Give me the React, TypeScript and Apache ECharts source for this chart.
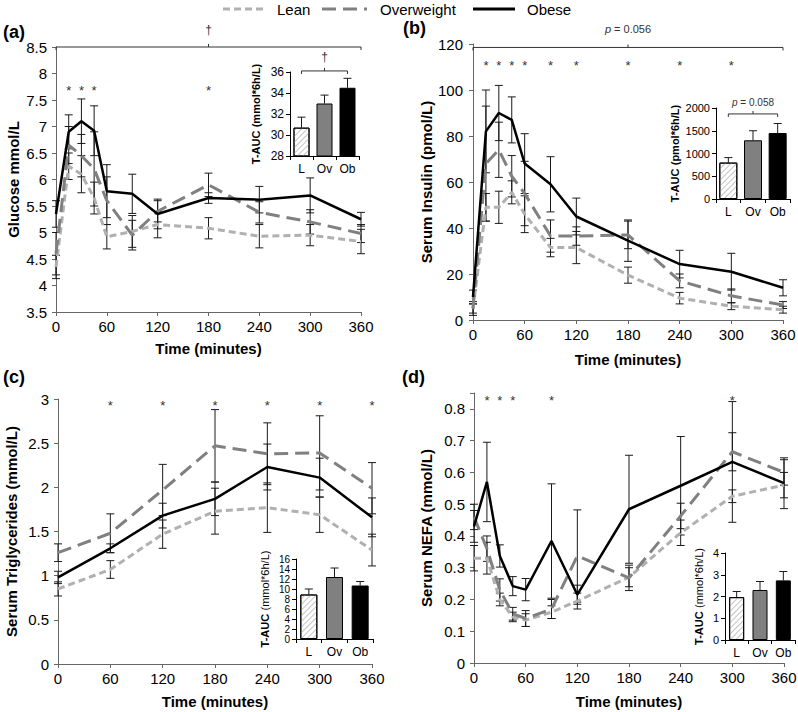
import React, { useEffect, useRef } from 'react';
import * as echarts from 'echarts';

const FONT = '"Liberation Sans", Arial, Helvetica, sans-serif';

// ---------- data ----------
const timesFull = [0, 15, 30, 45, 60, 90, 120, 180, 240, 300, 360];
const timesTG = [0, 60, 120, 180, 240, 300, 360];
const groupNames = ['Lean', 'Overweight', 'Obese'];
const aucCats = ['L', 'Ov', 'Ob'];

// (a) glucose (mmol/L)
const glucoseLean = [4.35, 6.25, 6.1, 5.65, 4.92, 5.02, 5.15, 5.08, 4.93, 4.95, 4.83];
const glucoseLeanErr = [0.22, 0.25, 0.35, 0.3, 0.23, 0.3, 0.25, 0.2, 0.22, 0.2, 0.23];
const glucoseOver = [4.6, 6.65, 6.45, 6.2, 5.6, 4.95, 5.4, 5.9, 5.38, 5.2, 4.98];
const glucoseOverErr = [0.4, 0.35, 0.4, 0.7, 0.45, 0.28, 0.2, 0.22, 0.2, 0.23, 0.17];
const glucoseObese = [5.35, 6.9, 7.1, 6.92, 5.78, 5.73, 5.35, 5.65, 5.62, 5.7, 5.25];
const glucoseObeseErr = [0.25, 0.32, 0.42, 0.47, 0.5, 0.37, 0.28, 0.1, 0.25, 0.33, 0.13];
const glucoseSig = [15, 30, 45, 180];
const glucoseSigLevel = 7.73;

// (b) insulin (pmol/L)
const insulinLean = [5, 49, 49, 55.5, 46, 31.5, 31.5, 19.5, 9.5, 6, 4.5];
const insulinLeanErr = [2, 6, 7, 5, 8, 4, 7, 3.5, 2.5, 1.5, 1.5];
const insulinOver = [5, 68, 74, 62.5, 55, 36.5, 36.5, 37, 17, 10.5, 6.5];
const insulinOverErr = [3, 25, 12, 9, 14, 7, 4, 6, 3, 3, 1.5];
const insulinObese = [10, 82, 90, 87, 68, 59, 45, 34.5, 24.3, 21, 14];
const insulinObeseErr = [3, 18, 12, 10, 13, 12, 8, 9, 6, 8, 3.5];
const insulinSig = [15, 30, 45, 60, 90, 120, 180, 240, 300];
const insulinSigLevel = 112;

// (c) triglycerides (mmol/L)
const tgLean = [0.85, 1.07, 1.47, 1.73, 1.77, 1.69, 1.29];
const tgLeanErr = [0.08, 0.1, 0.16, 0.26, 0.28, 0.2, 0.18];
const tgOver = [1.26, 1.48, 1.97, 2.47, 2.38, 2.39, 1.99];
const tgOverErr = [0.1, 0.22, 0.29, 0.41, 0.35, 0.42, 0.29];
const tgObese = [0.98, 1.31, 1.68, 1.87, 2.23, 2.11, 1.66];
const tgObeseErr = [0.07, 0.05, 0.14, 0.19, 0.26, 0.22, 0.22];
const tgSig = [60, 120, 180, 240, 300, 360];
const tgSigLevel = 2.96;

// (d) NEFA (mmol/L)
const nefaLean = [0.33, 0.33, 0.2, 0.145, 0.135, 0.16, 0.195, 0.27, 0.41, 0.525, 0.56];
const nefaLeanErr = [0.04, 0.05, 0.02, 0.015, 0.02, 0.02, 0.025, 0.03, 0.04, 0.02, 0.04];
const nefaOver = [0.46, 0.36, 0.23, 0.155, 0.14, 0.17, 0.337, 0.268, 0.463, 0.665, 0.6];
const nefaOverErr = [0.04, 0.04, 0.035, 0.02, 0.025, 0.03, 0.145, 0.04, 0.04, 0.06, 0.04];
const nefaObese = [0.43, 0.57, 0.337, 0.242, 0.231, 0.384, 0.215, 0.484, 0.558, 0.633, 0.566];
const nefaObeseErr = [0.05, 0.125, 0.035, 0.03, 0.035, 0.18, 0.03, 0.17, 0.155, 0.19, 0.08];
const nefaSig = [15, 30, 45, 90, 300];
const nefaSigLevel = 0.837;

// T-AUC insets
const aucGlucose = [30.7, 33.0, 34.5];
const aucGlucoseErr = [1.0, 0.8, 0.9];
const aucInsulin = [800, 1290, 1450];
const aucInsulinErr = [110, 210, 210];
const aucTG = [8.9, 12.4, 10.7];
const aucTGErr = [1.1, 1.8, 0.8];
const aucNEFA = [1.97, 2.3, 2.74];
const aucNEFAErr = [0.26, 0.39, 0.41];

// ---------- styles ----------
const LEAN_C = '#b0b0b0';
const OVER_C = '#808080';
const OBESE_C = '#000000';
const AXIS_C = '#666666';
const ERR_C = '#1a1a1a';
const NOTE_C = '#333333';
const LEAN_DASH = [7, 4];
const OVER_DASH = [14, 7];

const errRender = (capHalf: number, bottomCap: boolean) => (params: any, api: any) => {
  const x = api.value(0);
  const p1 = api.coord([x, api.value(1)]);
  const p2 = api.coord([x, api.value(2)]);
  const st = { stroke: ERR_C, lineWidth: 1 };
  const children: any[] = [
    { type: 'line', shape: { x1: p1[0], y1: p1[1], x2: p2[0], y2: p2[1] }, style: st },
    { type: 'line', shape: { x1: p2[0] - capHalf, y1: p2[1], x2: p2[0] + capHalf, y2: p2[1] }, style: st },
  ];
  if (bottomCap) {
    children.push({ type: 'line', shape: { x1: p1[0] - capHalf, y1: p1[1], x2: p1[0] + capHalf, y2: p1[1] }, style: st });
  }
  return { type: 'group', children };
};

const starRender = (params: any, api: any) => {
  const p = api.coord([api.value(0), api.value(1)]);
  return {
    type: 'text',
    x: p[0],
    y: p[1] + 3,
    style: {
      text: '*', fill: NOTE_C, fontSize: 13, fontFamily: FONT,
      align: 'center', textAlign: 'center', verticalAlign: 'middle', textVerticalAlign: 'middle',
    },
  };
};

const bracketRender = (label: string, labelGap: number, fontSize: number) => (params: any, api: any) => {
  const a = api.coord([api.value(0), api.value(2)]);
  const b = api.coord([api.value(1), api.value(2)]);
  const y = a[1];
  const mid = (a[0] + b[0]) / 2;
  const st = { stroke: NOTE_C, lineWidth: 1 };
  return {
    type: 'group',
    children: [
      { type: 'line', shape: { x1: a[0], y1: y, x2: b[0], y2: y }, style: st },
      { type: 'line', shape: { x1: a[0], y1: y, x2: a[0], y2: y + 3 }, style: st },
      { type: 'line', shape: { x1: b[0], y1: y, x2: b[0], y2: y + 3 }, style: st },
      { type: 'line', shape: { x1: mid, y1: y, x2: mid, y2: y - 3 }, style: st },
      {
        type: 'text', x: mid, y: y - labelGap,
        style: {
          text: label, fill: NOTE_C, fontSize, fontFamily: FONT,
          align: 'center', textAlign: 'center', verticalAlign: 'middle', textVerticalAlign: 'middle',
          rich: { i: { fontStyle: 'italic', fontSize, fontFamily: FONT, fill: NOTE_C, color: NOTE_C } },
        },
      },
    ],
  };
};

type Panel = {
  grid: { left: number; top: number; width: number; height: number };
  times: number[];
  lean: number[]; leanE: number[];
  over: number[]; overE: number[];
  obese: number[]; obeseE: number[];
  yMin: number; yMax: number; yInt: number;
  yName: string; yNameGap: number; xNameGap: number; yLabelMargin: number;
  sig: number[]; sigLevel: number;
  hideAbove?: number;
};

const panels: Panel[] = [
  {
    grid: { left: 56, top: 47, width: 305, height: 265 },
    times: timesFull, lean: glucoseLean, leanE: glucoseLeanErr, over: glucoseOver, overE: glucoseOverErr,
    obese: glucoseObese, obeseE: glucoseObeseErr, yMin: 3.5, yMax: 8.5, yInt: 0.5,
    yName: 'Glucose mmol/L', yNameGap: 35, xNameGap: 29, yLabelMargin: 9, sig: glucoseSig, sigLevel: glucoseSigLevel,
  },
  {
    grid: { left: 473, top: 44, width: 310, height: 276 },
    times: timesFull, lean: insulinLean, leanE: insulinLeanErr, over: insulinOver, overE: insulinOverErr,
    obese: insulinObese, obeseE: insulinObeseErr, yMin: 0, yMax: 120, yInt: 20,
    yName: 'Serum Insulin (pmol/L)', yNameGap: 39, xNameGap: 32, yLabelMargin: 10, sig: insulinSig, sigLevel: insulinSigLevel,
  },
  {
    grid: { left: 58, top: 399, width: 314, height: 265 },
    times: timesTG, lean: tgLean, leanE: tgLeanErr, over: tgOver, overE: tgOverErr,
    obese: tgObese, obeseE: tgObeseErr, yMin: 0, yMax: 3, yInt: 0.5,
    yName: 'Serum Triglycerides (mmol/L)', yNameGap: 39, xNameGap: 30, yLabelMargin: 9, sig: tgSig, sigLevel: tgSigLevel,
  },
  {
    grid: { left: 474, top: 393, width: 310, height: 270 },
    times: timesFull, lean: nefaLean, leanE: nefaLeanErr, over: nefaOver, overE: nefaOverErr,
    obese: nefaObese, obeseE: nefaObeseErr, yMin: 0, yMax: 0.85, yInt: 0.1,
    yName: 'Serum NEFA (mmol/L)', yNameGap: 40, xNameGap: 31, yLabelMargin: 9, sig: nefaSig, sigLevel: nefaSigLevel,
    hideAbove: 0.81,
  },
];

type Inset = {
  grid: { left: number; top: number; width: number; height: number };
  vals: number[]; errs: number[];
  yMin: number; yMax: number; yInt: number; labelSize: number;
  name: string; nameGap: number; unitsBold: boolean; barWidth: number;
};

const insets: Inset[] = [
  { grid: { left: 290, top: 72, width: 69, height: 84 }, vals: aucGlucose, errs: aucGlucoseErr, yMin: 28, yMax: 36, yInt: 2, labelSize: 12, name: '(mmol*6h/L)', nameGap: 28, unitsBold: true, barWidth: 16 },
  { grid: { left: 716, top: 108, width: 74, height: 91 }, vals: aucInsulin, errs: aucInsulinErr, yMin: 0, yMax: 2000, yInt: 500, labelSize: 11, name: '(pmol*6h/L)', nameGap: 35, unitsBold: true, barWidth: 18 },
  { grid: { left: 296, top: 559, width: 77, height: 80 }, vals: aucTG, errs: aucTGErr, yMin: 0, yMax: 16, yInt: 2, labelSize: 10, name: '(mmol*6h/L)', nameGap: 25, unitsBold: false, barWidth: 17 },
  { grid: { left: 725, top: 553, width: 70, height: 87 }, vals: aucNEFA, errs: aucNEFAErr, yMin: 0, yMax: 4, yInt: 1, labelSize: 11, name: '(mmol*6h/L)', nameGap: 20, unitsBold: false, barWidth: 15 },
];

const barItemStyles = [
  {
    color: '#ffffff', borderColor: '#000', borderWidth: 1,
    decal: { symbol: 'rect', symbolSize: 1, color: '#c4c4c4', dashArrayX: [1, 0], dashArrayY: [1, 3], rotation: -Math.PI / 4 },
  },
  { color: '#808080', borderColor: '#000', borderWidth: 1 },
  { color: '#000000', borderColor: '#000', borderWidth: 1 },
];

function buildOption() {
  const grid: any[] = [];
  const xAxis: any[] = [];
  const yAxis: any[] = [];
  const series: any[] = [];

  panels.forEach((p, gi) => {
    grid.push({ ...p.grid, containLabel: false, outerBoundsMode: 'none' });
    xAxis.push({
      type: 'value', gridIndex: gi, min: 0, max: 360, interval: 60,
      name: 'Time (minutes)', nameLocation: 'middle', nameGap: p.xNameGap,
      nameTextStyle: { fontFamily: FONT, fontSize: 15, fontWeight: 'bold', color: '#000' },
      axisLine: { show: true, onZero: false, lineStyle: { color: AXIS_C, width: 1 } },
      axisTick: { show: true, length: 4, lineStyle: { color: AXIS_C } },
      axisLabel: { fontFamily: FONT, fontSize: 15, color: '#000', margin: 7, formatter: (v: number) => String(v) },
      splitLine: { show: false },
    });
    yAxis.push({
      type: 'value', gridIndex: gi, min: p.yMin, max: p.yMax, interval: p.yInt,
      name: p.yName, nameLocation: 'middle', nameGap: p.yNameGap,
      nameTextStyle: { fontFamily: FONT, fontSize: 15, fontWeight: 'bold', color: '#000' },
      axisLine: { show: true, onZero: false, lineStyle: { color: AXIS_C, width: 1 } },
      axisTick: { show: true, length: 4, lineStyle: { color: AXIS_C } },
      axisLabel: {
        fontFamily: FONT, fontSize: 15, color: '#000', margin: p.yLabelMargin,
        formatter: (v: number) => (p.hideAbove !== undefined && v > p.hideAbove ? '' : String(Number(v.toFixed(2)))),
      },
      splitLine: { show: false },
    });

    const groups = [
      { name: groupNames[0], vals: p.lean, errs: p.leanE, color: LEAN_C, dash: LEAN_DASH, width: 3 },
      { name: groupNames[1], vals: p.over, errs: p.overE, color: OVER_C, dash: OVER_DASH, width: 3 },
      { name: groupNames[2], vals: p.obese, errs: p.obeseE, color: OBESE_C, dash: 'solid', width: 2.5 },
    ];
    groups.forEach((g) => {
      series.push({
        type: 'custom', xAxisIndex: gi, yAxisIndex: gi, z: 2, silent: true,
        itemStyle: { color: ERR_C },
        data: p.times.map((t, i) => [t, g.vals[i] - g.errs[i], g.vals[i] + g.errs[i]]),
        encode: { x: 0, y: [1, 2] },
        renderItem: errRender(4, true),
      });
    });
    groups.forEach((g, k) => {
      series.push({
        type: 'line', name: g.name, xAxisIndex: gi, yAxisIndex: gi, z: 3 + k,
        data: p.times.map((t, i) => [t, g.vals[i]]),
        symbol: 'none',
        lineStyle: { color: g.color, width: g.width, type: g.dash },
        itemStyle: { color: g.color },
      });
    });
    series.push({
      type: 'custom', xAxisIndex: gi, yAxisIndex: gi, z: 6, silent: true,
      itemStyle: { color: NOTE_C },
      data: p.sig.map((t) => [t, p.sigLevel]),
      encode: { x: 0, y: 1 },
      renderItem: starRender,
    });
  });

  // brackets on main panels (a) and (b)
  series.push({
    type: 'custom', xAxisIndex: 0, yAxisIndex: 0, z: 6, silent: true,
    itemStyle: { color: NOTE_C },
    data: [[0, 360, 8.5]], encode: { x: 0, y: 2 },
    renderItem: bracketRender('†', 17, 12),
  });
  series.push({
    type: 'custom', xAxisIndex: 1, yAxisIndex: 1, z: 6, silent: true,
    itemStyle: { color: NOTE_C },
    data: [[0, 360, 118.5]], encode: { x: 0, y: 2 },
    renderItem: bracketRender('{i|p} = 0.056', 18, 11),
  });

  insets.forEach((q, j) => {
    const gi = 4 + j;
    grid.push({ ...q.grid, containLabel: false, outerBoundsMode: 'none' });
    xAxis.push({
      type: 'category', gridIndex: gi, data: aucCats,
      axisLine: { show: true, lineStyle: { color: '#000', width: 1 } },
      axisTick: { show: true, length: 4, lineStyle: { color: '#000' } },
      axisLabel: { fontFamily: FONT, fontSize: 12, color: '#000', margin: 7 },
      splitLine: { show: false },
    });
    yAxis.push({
      type: 'value', gridIndex: gi, min: q.yMin, max: q.yMax, interval: q.yInt,
      name: '{b|T-AUC} {u|' + q.name + '}', nameLocation: 'middle', nameGap: q.nameGap,
      nameTextStyle: {
        color: '#000',
        rich: {
          b: { fontFamily: FONT, fontSize: 11, fontWeight: 'bold', color: '#000' },
          u: { fontFamily: FONT, fontSize: 11, fontWeight: q.unitsBold ? 'bold' : 'normal', color: '#000' },
        },
      },
      axisLine: { show: true, onZero: false, lineStyle: { color: '#000', width: 1 } },
      axisTick: { show: true, length: 4, lineStyle: { color: '#000' } },
      axisLabel: {
        fontFamily: FONT, fontSize: q.labelSize, lineHeight: q.labelSize, color: '#000', margin: 6,
        formatter: (v: number) => String(v),
      },
      splitLine: { show: false },
    });
    series.push({
      type: 'bar', xAxisIndex: gi, yAxisIndex: gi, z: 7, silent: true, barWidth: q.barWidth,
      data: q.vals.map((v, i) => ({ value: v, itemStyle: barItemStyles[i] })),
    });
    series.push({
      type: 'custom', xAxisIndex: gi, yAxisIndex: gi, z: 6, silent: true,
      itemStyle: { color: ERR_C },
      data: q.vals.map((v, i) => [i, v, v + q.errs[i]]),
      encode: { x: 0, y: [1, 2] },
      renderItem: errRender(4, false),
    });
  });

  // inset brackets (a) and (b)
  series.push({
    type: 'custom', xAxisIndex: 4, yAxisIndex: 4, z: 8, silent: true,
    itemStyle: { color: NOTE_C },
    data: [[0, 2, 36.1]], encode: { x: 0, y: 2 },
    renderItem: bracketRender('†', 14, 12),
  });
  series.push({
    type: 'custom', xAxisIndex: 5, yAxisIndex: 5, z: 8, silent: true,
    itemStyle: { color: NOTE_C },
    data: [[0, 2, 1870]], encode: { x: 0, y: 2 },
    renderItem: bracketRender('{i|p} = 0.058', 11, 10),
  });

  const legendItems = [
    { x1: 223, x2: 263, tx: 277, color: LEAN_C, dash: LEAN_DASH, width: 3, text: groupNames[0] },
    { x1: 322, x2: 367, tx: 380, color: OVER_C, dash: OVER_DASH, width: 3, text: groupNames[1] },
    { x1: 473, x2: 515, tx: 527, color: OBESE_C, dash: null, width: 3, text: groupNames[2] },
  ];
  const graphic: any[] = [];
  legendItems.forEach((l) => {
    graphic.push({
      type: 'line', shape: { x1: l.x1, y1: 9, x2: l.x2, y2: 9 },
      style: { stroke: l.color, lineWidth: l.width, lineDash: l.dash || undefined },
    });
    graphic.push({
      type: 'text', x: l.tx, y: 9,
      style: { text: l.text, fill: '#000', fontSize: 15, fontFamily: FONT, verticalAlign: 'middle', textVerticalAlign: 'middle' },
    });
  });
  const panelLabels = [
    { t: '(a)', x: 3, y: 32 },
    { t: '(b)', x: 403, y: 28 },
    { t: '(c)', x: 3, y: 377 },
    { t: '(d)', x: 402, y: 377 },
  ];
  panelLabels.forEach((pl) => {
    graphic.push({
      type: 'text', x: pl.x, y: pl.y,
      style: { text: pl.t, fill: '#000', fontSize: 18, fontWeight: 'bold', fontFamily: FONT, verticalAlign: 'middle', textVerticalAlign: 'middle' },
    });
  });

  return {
    animation: false,
    backgroundColor: '#ffffff',
    textStyle: { fontFamily: FONT },
    grid, xAxis, yAxis, series, graphic,
  };
}

export default function App() {
  const ref = useRef<HTMLDivElement>(null);
  useEffect(() => {
    const chart = echarts.init(ref.current as HTMLDivElement, undefined, { renderer: 'svg' });
    chart.setOption(buildOption() as any);
    return () => chart.dispose();
  }, []);
  return (
    <div
      ref={ref}
      style={{ position: 'fixed', left: 0, top: 0, width: 798, height: 712, background: '#fff' }}
    />
  );
}
